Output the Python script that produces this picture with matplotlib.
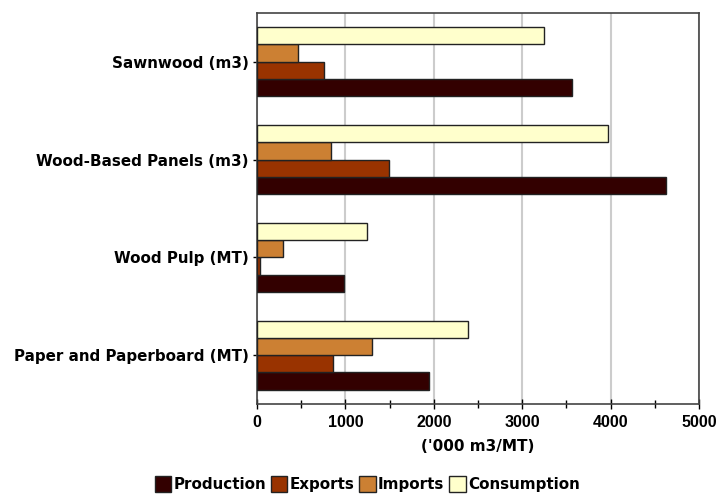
import matplotlib.pyplot as plt
import numpy as np
from matplotlib.ticker import MultipleLocator

plt.rcParams['font.family'] = ['DejaVu Sans']

# data ('000 m3 / MT)
categories = ["Sawnwood (m3)", "Wood-Based Panels (m3)", "Wood Pulp (MT)", "Paper and Paperboard (MT)"]
series = ["Production", "Exports", "Imports", "Consumption"]
production = [3560, 4630, 985, 1945]
exports = [755, 1495, 30, 855]
imports = [460, 840, 290, 1305]
consumption = [3250, 3970, 1240, 2390]
colors = ["#330000", "#993300", "#cc8033", "#ffffcc"]

values = [production, exports, imports, consumption]

fig = plt.figure(figsize=(7.2, 4.94), dpi=100)
ax = fig.add_axes([0.357, 0.182, 0.614, 0.792])

y = np.arange(len(categories))
h = 0.177
# production at the bottom of each group, consumption at the top
offsets = np.array([1.5, 0.5, -0.5, -1.5]) * h
for vals, off, col, name in zip(values, offsets, colors, series):
    ax.barh(y + off, vals, height=h, color=col, edgecolor="#222222",
            linewidth=1.0, label=name, zorder=3)

ax.set_ylim(len(categories) - 0.5, -0.5)
ax.set_yticks(y)
ax.set_yticklabels(categories, fontsize=10.9, fontweight="bold")
ax.set_xlim(0, 5000)
ax.xaxis.set_major_locator(MultipleLocator(1000))
ax.xaxis.set_minor_locator(MultipleLocator(500))
ax.tick_params(axis="x", which="major", direction="inout", length=7, width=1, pad=4)
ax.tick_params(axis="x", which="minor", direction="inout", length=6, width=1)
ax.tick_params(axis="y", direction="inout", length=6, width=1, pad=3)
for lab in ax.get_xticklabels():
    lab.set_fontweight("bold")
    lab.set_fontfamily("Liberation Sans")
    lab.set_fontsize(11.5)
ax.grid(axis="x", color="#cccccc", linewidth=1.5, zorder=0)
for s in ax.spines.values():
    s.set_color("#444444")
    s.set_linewidth(1.2)
ax.set_xlabel("('000 m3/MT)", fontsize=11, fontweight="bold", labelpad=7)

fig.legend(loc="center", bbox_to_anchor=(0.51, 0.02), ncol=4, frameon=False,
           prop={"weight": "bold", "size": 10.9}, handlelength=1.1, handleheight=1.3,
           handletextpad=0.15, columnspacing=0.3)

fig.savefig("out.png", dpi=100)
